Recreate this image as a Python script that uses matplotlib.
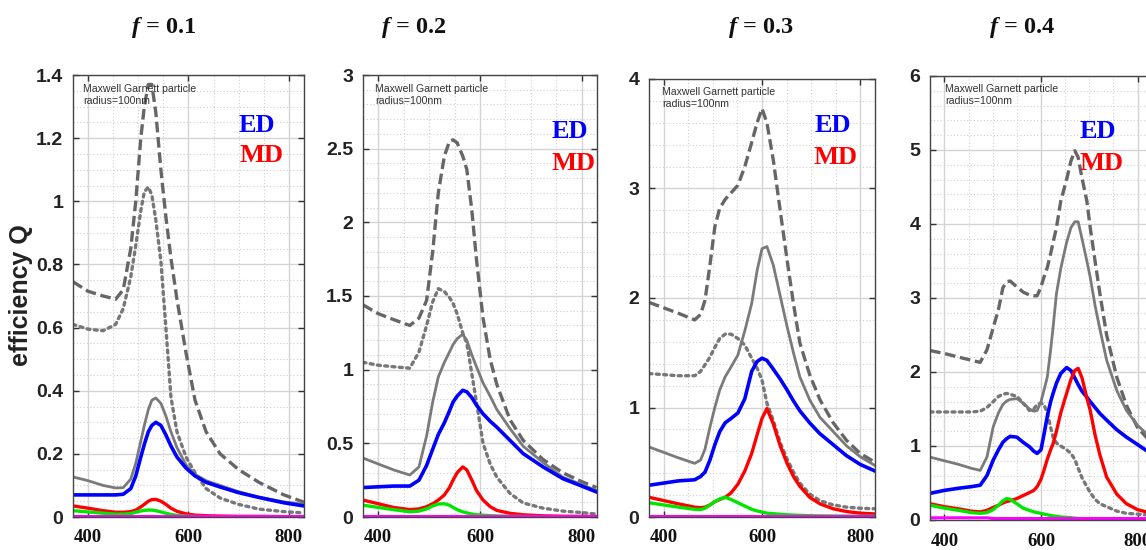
import numpy as np
import matplotlib
matplotlib.use("Agg")
import matplotlib.pyplot as plt
from matplotlib.ticker import MultipleLocator, FormatStrFormatter

plt.rcParams['mathtext.fontset'] = 'custom'
plt.rcParams['mathtext.it'] = 'Liberation Serif:italic:bold'
plt.rcParams['mathtext.rm'] = 'Liberation Serif:bold'

# ---- data (wavelength nm, efficiency Q) ----
# f = 0.1
wl1 = [370, 400, 430, 455, 470, 485, 495, 505, 512, 520, 527, 535, 545, 555, 565, 577, 595, 613, 635, 663, 700, 740, 790, 830]
ext1 = [0.745, 0.715, 0.70, 0.69, 0.72, 0.85, 1.00, 1.20, 1.30, 1.37, 1.37, 1.28, 1.10, 0.95, 0.82, 0.69, 0.52, 0.37, 0.27, 0.20, 0.15, 0.11, 0.07, 0.047]
abs1 = [0.61, 0.595, 0.59, 0.61, 0.66, 0.76, 0.86, 0.97, 1.03, 1.045, 1.02, 0.94, 0.81, 0.60, 0.38, 0.27, 0.19, 0.14, 0.09, 0.06, 0.04, 0.025, 0.017, 0.013]
sca1 = [0.127, 0.115, 0.10, 0.092, 0.093, 0.12, 0.17, 0.24, 0.29, 0.34, 0.37, 0.377, 0.36, 0.32, 0.27, 0.22, 0.165, 0.135, 0.115, 0.10, 0.08, 0.063, 0.048, 0.04]
ed1 = [0.07, 0.07, 0.07, 0.07, 0.072, 0.09, 0.13, 0.19, 0.23, 0.27, 0.29, 0.30, 0.29, 0.26, 0.225, 0.19, 0.155, 0.13, 0.11, 0.095, 0.077, 0.062, 0.045, 0.035]
md1 = [0.035, 0.028, 0.02, 0.015, 0.015, 0.017, 0.022, 0.032, 0.04, 0.05, 0.055, 0.056, 0.05, 0.04, 0.028, 0.018, 0.01, 0.006, 0.004, 0.003, 0.002, 0.002, 0.001, 0.001]
eq1 = [0.02, 0.016, 0.012, 0.009, 0.009, 0.011, 0.015, 0.019, 0.021, 0.022, 0.022, 0.02, 0.016, 0.012, 0.008, 0.005, 0.003, 0.002, 0.001, 0.001, 0.001, 0.001, 0.001, 0.001]
mq1 = [0.002] * len(wl1)

# f = 0.2
wl2 = [370, 400, 430, 462, 480, 495, 507, 518, 530, 540, 547, 555, 566, 574, 584, 593, 606, 620, 633, 659, 685, 724, 763, 800, 829]
ext2 = [1.44, 1.38, 1.34, 1.30, 1.35, 1.47, 1.80, 2.20, 2.45, 2.55, 2.56, 2.54, 2.45, 2.36, 2.08, 1.75, 1.35, 1.07, 0.90, 0.66, 0.52, 0.39, 0.30, 0.24, 0.20]
abs2 = [1.05, 1.03, 1.02, 1.01, 1.12, 1.30, 1.46, 1.55, 1.53, 1.49, 1.45, 1.38, 1.25, 1.18, 0.97, 0.78, 0.50, 0.36, 0.27, 0.16, 0.095, 0.06, 0.04, 0.03, 0.02]
sca2 = [0.40, 0.36, 0.32, 0.285, 0.34, 0.55, 0.78, 0.95, 1.05, 1.12, 1.17, 1.21, 1.24, 1.20, 1.10, 1.02, 0.91, 0.82, 0.73, 0.60, 0.48, 0.37, 0.27, 0.22, 0.18]
ed2 = [0.20, 0.205, 0.21, 0.21, 0.25, 0.35, 0.46, 0.56, 0.64, 0.72, 0.78, 0.82, 0.86, 0.85, 0.81, 0.76, 0.70, 0.65, 0.61, 0.52, 0.43, 0.34, 0.26, 0.21, 0.17]
md2 = [0.115, 0.09, 0.065, 0.05, 0.055, 0.07, 0.09, 0.115, 0.15, 0.20, 0.25, 0.30, 0.34, 0.32, 0.25, 0.18, 0.115, 0.07, 0.045, 0.025, 0.015, 0.008, 0.005, 0.004, 0.003]
eq2 = [0.08, 0.065, 0.05, 0.035, 0.04, 0.055, 0.075, 0.088, 0.09, 0.08, 0.065, 0.05, 0.035, 0.028, 0.02, 0.015, 0.012, 0.009, 0.007, 0.005, 0.004, 0.003, 0.002, 0.002, 0.002]
mq2 = [0.01] * len(wl2)

# f = 0.3
wl3 = [370, 400, 430, 463, 475, 484, 494, 504, 514, 525, 537, 551, 565, 579, 590, 600, 610, 623, 637, 651, 664, 677, 697, 718, 745, 772, 800, 830]
ext3 = [1.96, 1.91, 1.86, 1.80, 1.85, 1.98, 2.30, 2.65, 2.82, 2.90, 2.96, 3.03, 3.20, 3.42, 3.60, 3.73, 3.60, 3.26, 2.80, 2.35, 1.95, 1.59, 1.30, 1.07, 0.86, 0.70, 0.58, 0.50]
abs3 = [1.31, 1.30, 1.29, 1.29, 1.33, 1.39, 1.46, 1.55, 1.63, 1.67, 1.67, 1.63, 1.57, 1.45, 1.36, 1.25, 1.04, 0.88, 0.68, 0.53, 0.41, 0.31, 0.21, 0.15, 0.11, 0.09, 0.08, 0.075]
sca3 = [0.64, 0.59, 0.54, 0.49, 0.52, 0.62, 0.82, 1.00, 1.16, 1.28, 1.37, 1.48, 1.70, 1.95, 2.25, 2.45, 2.47, 2.30, 2.02, 1.74, 1.50, 1.28, 1.07, 0.91, 0.78, 0.65, 0.55, 0.47]
ed3 = [0.29, 0.31, 0.33, 0.34, 0.37, 0.41, 0.52, 0.66, 0.78, 0.86, 0.90, 0.95, 1.08, 1.33, 1.42, 1.45, 1.43, 1.35, 1.26, 1.16, 1.06, 0.97, 0.86, 0.76, 0.66, 0.56, 0.48, 0.42]
md3 = [0.18, 0.15, 0.12, 0.09, 0.085, 0.09, 0.11, 0.14, 0.16, 0.18, 0.22, 0.30, 0.42, 0.58, 0.75, 0.90, 0.99, 0.85, 0.65, 0.49, 0.37, 0.28, 0.18, 0.12, 0.075, 0.05, 0.035, 0.028]
eq3 = [0.13, 0.11, 0.09, 0.07, 0.068, 0.08, 0.11, 0.14, 0.165, 0.18, 0.16, 0.13, 0.10, 0.07, 0.055, 0.045, 0.035, 0.03, 0.025, 0.02, 0.017, 0.015, 0.012, 0.01, 0.009, 0.008, 0.008, 0.008]
mq3 = [0.01] * len(wl3)

# f = 0.4
wl4 = [370, 400, 430, 455, 474, 488, 501, 512, 521, 529, 536, 550, 563, 576, 585, 592, 600, 606, 613, 620, 625, 632, 641, 653, 662, 670, 677, 685, 695, 702, 712, 722, 736, 757, 777, 800, 818, 830]
ext4 = [2.29, 2.25, 2.20, 2.16, 2.13, 2.30, 2.60, 2.85, 3.14, 3.22, 3.23, 3.15, 3.08, 3.04, 3.03, 3.03, 3.15, 3.28, 3.41, 3.60, 3.75, 3.95, 4.31, 4.60, 4.85, 4.99, 4.90, 4.62, 4.31, 3.95, 3.50, 3.06, 2.50, 1.93, 1.55, 1.25, 1.12, 1.02]
abs4 = [1.46, 1.46, 1.46, 1.46, 1.47, 1.52, 1.60, 1.67, 1.70, 1.71, 1.70, 1.67, 1.58, 1.48, 1.50, 1.56, 1.58, 1.56, 1.45, 1.25, 1.12, 1.04, 1.00, 0.95, 0.90, 0.82, 0.70, 0.57, 0.45, 0.37, 0.28, 0.22, 0.18, 0.12, 0.09, 0.08, 0.07, 0.07]
sca4 = [0.85, 0.80, 0.75, 0.70, 0.67, 0.85, 1.26, 1.45, 1.56, 1.61, 1.63, 1.64, 1.58, 1.50, 1.47, 1.48, 1.60, 1.75, 1.93, 2.30, 2.60, 3.06, 3.40, 3.75, 3.95, 4.03, 4.03, 3.80, 3.50, 3.28, 2.90, 2.58, 2.16, 1.75, 1.48, 1.28, 1.17, 1.10]
ed4 = [0.36, 0.40, 0.43, 0.45, 0.47, 0.60, 0.81, 0.95, 1.05, 1.10, 1.13, 1.12, 1.05, 0.99, 0.93, 0.90, 0.95, 1.15, 1.40, 1.60, 1.71, 1.85, 1.98, 2.06, 2.02, 1.92, 1.83, 1.74, 1.66, 1.60, 1.52, 1.44, 1.35, 1.22, 1.12, 1.02, 0.94, 0.90]
md4 = [0.22, 0.18, 0.15, 0.12, 0.11, 0.13, 0.17, 0.20, 0.23, 0.25, 0.26, 0.29, 0.33, 0.37, 0.40, 0.45, 0.55, 0.67, 0.82, 0.95, 1.03, 1.20, 1.45, 1.71, 1.90, 2.02, 2.05, 1.92, 1.65, 1.48, 1.15, 0.88, 0.58, 0.35, 0.22, 0.14, 0.11, 0.10]
eq4 = [0.20, 0.16, 0.13, 0.10, 0.09, 0.10, 0.14, 0.20, 0.26, 0.29, 0.28, 0.22, 0.16, 0.13, 0.11, 0.10, 0.09, 0.08, 0.07, 0.06, 0.055, 0.05, 0.04, 0.035, 0.03, 0.025, 0.02, 0.02, 0.018, 0.015, 0.013, 0.012, 0.011, 0.01, 0.01, 0.01, 0.01, 0.01]
mq4 = [0.03] * 6 + [0.02] * (len(wl4) - 6)

f_values = ["0.1", "0.2", "0.3", "0.4"]
y_max = [1.4, 3, 4, 6]
y_step = [0.2, 0.5, 1, 1]
y_minor = [0.05, 0.1, 0.2, 0.2]

panels = [
    (wl1, ext1, abs1, sca1, ed1, md1, eq1, mq1),
    (wl2, ext2, abs2, sca2, ed2, md2, eq2, mq2),
    (wl3, ext3, abs3, sca3, ed3, md3, eq3, mq3),
    (wl4, ext4, abs4, sca4, ed4, md4, eq4, mq4),
]

W, H = 1146, 550
# axes boxes in pixels: left, right, top, bottom
boxes = [(73, 304, 75, 517), (363, 597, 75, 517), (649, 875, 79, 517), (930, 1152, 76, 520)]
title_x = [164, 414, 761, 1022]
ed_pos = [(257, 125), (570, 131), (833, 125), (1098, 131)]
md_pos = [(261, 156), (573, 164), (836, 157), (1101, 163)]
note_off = [(10, 9), (12, 9), (13, 8), (15, 8)]

fig = plt.figure(figsize=(W / 100, H / 100), dpi=100)

for i, (wl, ext, ab, sca, ed, md, eq, mq) in enumerate(panels):
    l, r, t, b = boxes[i]
    ax = fig.add_axes([l / W, (H - b) / H, (r - l) / W, (b - t) / H])

    ax.plot(wl, ext, color='#666666', lw=2.4, dashes=(3.2, 1.4))
    ax.plot(wl, ab, color='#777777', lw=2.4, linestyle=(0, (0.9, 1.3)), dash_capstyle='round')
    ax.plot(wl, sca, color='#7a7a7a', lw=2.0)
    ax.plot(wl, ed, color='#0000ff', lw=2.6)
    ax.plot(wl, md, color='#ff0000', lw=2.4)
    ax.plot(wl, eq, color='#00e600', lw=2.4)
    ax.plot(wl, mq, color='#ff00ff', lw=2.2)

    ax.set_xlim(370, 830)
    ax.set_ylim(0, y_max[i])
    ax.xaxis.set_major_locator(MultipleLocator(200))
    ax.xaxis.set_minor_locator(MultipleLocator(50))
    ax.yaxis.set_major_locator(MultipleLocator(y_step[i]))
    ax.yaxis.set_minor_locator(MultipleLocator(y_minor[i]))
    ax.yaxis.set_major_formatter(FormatStrFormatter('%g'))

    ax.grid(which='major', color='#d4d4d4', lw=1.0, ls='-')
    ax.grid(which='minor', color='#cfcfcf', lw=0.8, ls=(0, (1, 2)))
    ax.set_axisbelow(True)

    ax.tick_params(which='major', direction='in', length=4, top=True, right=True, width=1, color='#333333')
    ax.tick_params(which='minor', length=0)
    ax.tick_params(axis='y', pad=7, labelsize=14, labelcolor='#222222')
    ax.tick_params(axis='x', pad=9, labelsize=13.5, labelcolor='#111111')
    for lab in ax.get_yticklabels():
        lab.set_fontfamily('Liberation Sans')
        lab.set_fontweight('bold')
    for lab in ax.get_xticklabels():
        lab.set_fontfamily('Liberation Serif')
        lab.set_fontweight('bold')
    for s in ax.spines.values():
        s.set_color('#444444')
        s.set_linewidth(1.0)

    dx, dy = note_off[i]
    ax.annotate("Maxwell Garnett particle\nradius=100nm", xy=(0, 1), xycoords='axes fraction',
                xytext=(dx, -dy), textcoords='offset pixels', ha='left', va='top',
                fontsize=7.6, family='Liberation Sans', color='#333333', linespacing=1.2)

    fig.text(ed_pos[i][0] / W, 1 - ed_pos[i][1] / H, "ED", color='#0000ff', fontsize=19,
             family='Liberation Serif', fontweight='bold', ha='center', va='center')
    fig.text(md_pos[i][0] / W, 1 - md_pos[i][1] / H, "MD", color='#ff0000', fontsize=19,
             family='Liberation Serif', fontweight='bold', ha='center', va='center')

    fig.text(title_x[i] / W, 1 - 27 / H, r"$\mathit{f}$ = " + f_values[i], fontsize=17.5,
             family='Liberation Serif', fontweight='bold', ha='center', va='center', color='#111111')

fig.text(21 / W, 1 - 295 / H, "efficiency Q", rotation=90, fontsize=18, family='Liberation Sans',
         fontweight='bold', ha='center', va='center', color='#222222')

fig.savefig("out.png", dpi=100)
